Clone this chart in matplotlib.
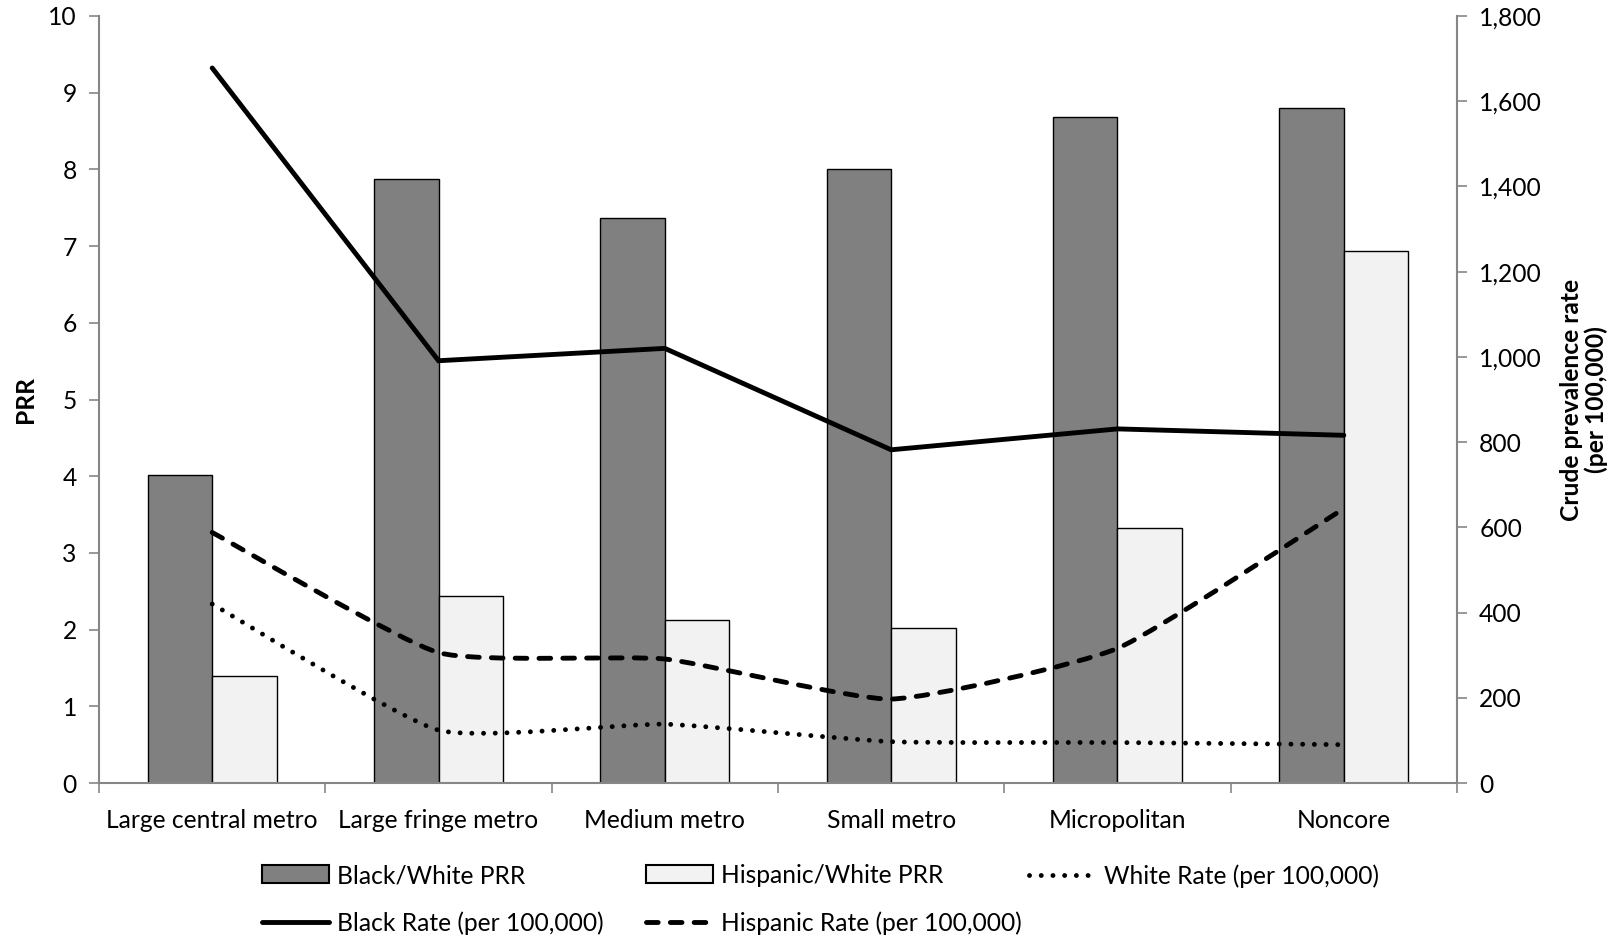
import numpy as np
import matplotlib
matplotlib.use("Agg")
import matplotlib.pyplot as plt
from matplotlib.path import Path
from matplotlib.patches import PathPatch, Patch
from matplotlib.lines import Line2D
from matplotlib.ticker import FuncFormatter, MultipleLocator

plt.rcParams['font.family'] = ['Lato', 'DejaVu Sans']

categories = ["Large central metro", "Large fringe metro", "Medium metro",
              "Small metro", "Micropolitan", "Noncore"]
black_white_prr = [4.02, 7.88, 7.37, 8.00, 8.68, 8.80]
hispanic_white_prr = [1.40, 2.44, 2.12, 2.02, 3.32, 6.94]
black_rate = [1678, 991, 1020, 782, 831, 816]
hispanic_rate = [588, 306, 291, 197, 316, 644]
white_rate = [420, 124, 138, 97, 95, 90]

GRAY = "#868686"
FS = 17.7
LW = 3.5
DASH = (0, (2.4, 2.5))
DOT = (0, (0.01, 2.4))


def smooth_path(x, y, k=1 / 12):
    # smoothed line through the points (Catmull-Rom style cubic Bezier)
    pts = np.column_stack([x, y]).astype(float)
    n = len(pts)
    verts = [pts[0]]
    codes = [Path.MOVETO]
    for i in range(n - 1):
        p0 = pts[max(i - 1, 0)]
        p1 = pts[i]
        p2 = pts[i + 1]
        p3 = pts[min(i + 2, n - 1)]
        verts += [p1 + (p2 - p0) * k, p2 - (p3 - p1) * k, p2]
        codes += [Path.CURVE4] * 3
    return Path(verts, codes)


fig = plt.figure(figsize=(16.21, 9.41), dpi=100)
ax = fig.add_axes([0.0611, 0.1679, 0.8377, 0.8151])
x = np.arange(len(categories))
w = 0.285

ax.bar(x - w / 2, black_white_prr, w, color="#808080", edgecolor="black", linewidth=1.0, zorder=2)
ax.bar(x + w / 2, hispanic_white_prr, w, color="#f2f2f2", edgecolor="black", linewidth=1.0, zorder=2)

ax.set_xlim(-0.5, len(categories) - 0.5)
ax.set_ylim(0, 10)
ax.yaxis.set_major_locator(MultipleLocator(1))
ax.set_xticks(np.arange(-0.5, len(categories)), [])
ax.set_xticks(x, categories, minor=True)
ax.tick_params(axis="x", which="major", direction="out", length=7, color=GRAY, width=1.2)
ax.tick_params(axis="x", which="minor", length=0, pad=18.5, labelsize=FS)
ax.tick_params(axis="y", direction="out", length=7, color=GRAY, width=1.2, labelsize=FS, pad=9)
for s in ["top", "right"]:
    ax.spines[s].set_visible(False)
for s in ["left", "bottom"]:
    ax.spines[s].set_color(GRAY)
    ax.spines[s].set_linewidth(1.5)
ax.set_ylabel("PRR", fontsize=FS, fontweight="bold", ha="center", va="center")
ax.yaxis.set_label_coords(-0.0545, 0.5)

ax2 = ax.twinx()
ax2.set_ylim(0, 1800)
ax2.yaxis.set_major_locator(MultipleLocator(200))
ax2.yaxis.set_major_formatter(FuncFormatter(lambda v, p: f"{int(v):,}"))
ax2.tick_params(axis="y", direction="out", length=7, color=GRAY, width=1.2, labelsize=FS, pad=9)
for s in ["top", "left", "bottom"]:
    ax2.spines[s].set_visible(False)
ax2.spines["right"].set_color(GRAY)
ax2.spines["right"].set_linewidth(1.5)
ax2.set_ylabel("Crude prevalence rate\n(per 100,000)", fontsize=FS, fontweight="bold",
               linespacing=1.1, ha="center", va="center")
ax2.yaxis.set_label_coords(1.0935, 0.5)

ax2.plot(x, black_rate, color="black", linewidth=LW, solid_capstyle="round",
         solid_joinstyle="miter", zorder=3)
hisp = PathPatch(smooth_path(x, hispanic_rate), fill=False, edgecolor="black",
                 linewidth=LW, linestyle=DASH, capstyle="round", zorder=3)
ax2.add_patch(hisp)
white = PathPatch(smooth_path(x, white_rate), fill=False, edgecolor="black",
                  linewidth=LW, linestyle=DOT, capstyle="round", zorder=3)
ax2.add_patch(white)

h_bw = Patch(facecolor="#808080", edgecolor="black", linewidth=1.5)
h_hw = Patch(facecolor="#f2f2f2", edgecolor="black", linewidth=1.5)
h_wr = Line2D([], [], color="black", linewidth=LW, linestyle=DOT, dash_capstyle="round")
h_br = Line2D([], [], color="black", linewidth=LW, solid_capstyle="round")
h_hr = Line2D([], [], color="black", linewidth=LW, linestyle=DASH, dash_capstyle="round")

leg_kw = dict(frameon=False, fontsize=FS, handlelength=2.72, handleheight=0.75,
              handletextpad=0.35, labelspacing=1.0, borderpad=0, borderaxespad=0,
              loc="upper left")
top = 1 - 864 / 941
fig.legend([h_bw, h_br], ["Black/White PRR", "Black Rate (per 100,000)"],
           bbox_to_anchor=(262 / 1621, top), **leg_kw)
fig.legend([h_hw, h_hr], ["Hispanic/White PRR", "Hispanic Rate (per 100,000)"],
           bbox_to_anchor=(646 / 1621, top), **leg_kw)
fig.legend([h_wr], ["White Rate (per 100,000)"],
           bbox_to_anchor=(1029 / 1621, top), **leg_kw)

fig.savefig("out.png", dpi=100)
